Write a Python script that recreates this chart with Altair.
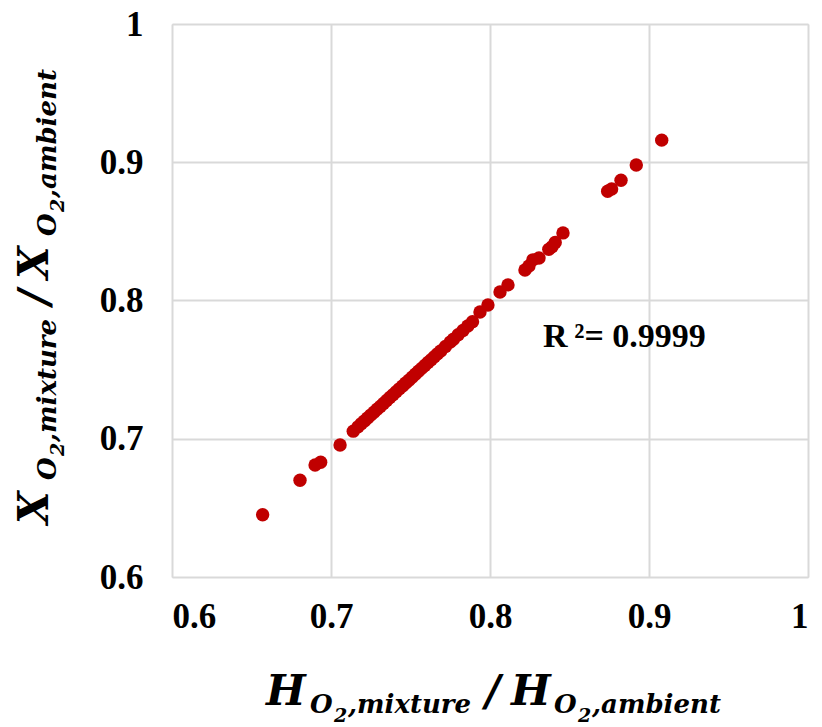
import altair as alt
import pandas as pd

# H_O2 ratio (x) and X_O2 ratio (y)
h_ratio = [0.657, 0.6805, 0.690, 0.6935, 0.7057,
           0.714, 0.717, 0.719, 0.721, 0.723, 0.725, 0.727, 0.729, 0.731, 0.733,
           0.735, 0.737, 0.739, 0.741, 0.743, 0.745, 0.747, 0.749, 0.751, 0.753,
           0.755, 0.757, 0.759, 0.761, 0.763, 0.765, 0.767, 0.769, 0.772, 0.775,
           0.777, 0.780, 0.783, 0.786, 0.789, 0.7937, 0.7987,
           0.8063, 0.8113, 0.822, 0.8245, 0.827, 0.8308, 0.837, 0.839, 0.841, 0.8459,
           0.874, 0.8765, 0.8824, 0.892, 0.908]
x_ratio = [0.645, 0.670, 0.681, 0.683, 0.6955,
           0.7055, 0.7086, 0.7108, 0.7129, 0.7150, 0.7171, 0.7192, 0.7213, 0.7234, 0.7255,
           0.7277, 0.7298, 0.7319, 0.7340, 0.7361, 0.7382, 0.7403, 0.7424, 0.7445, 0.7467,
           0.7488, 0.7509, 0.7530, 0.7551, 0.7572, 0.7593, 0.7614, 0.7635, 0.7667, 0.7699,
           0.7720, 0.7752, 0.7783, 0.7815, 0.7847, 0.7917, 0.7968,
           0.8062, 0.8113, 0.8221, 0.8250, 0.8294, 0.8308, 0.8370, 0.8388, 0.8420, 0.8489,
           0.879, 0.8807, 0.887, 0.898, 0.916]

ticks = [0.6, 0.7, 0.8, 0.9, 1.0]
r2_text = ["R\u2009²= 0.9999"]

df = pd.DataFrame({"h": h_ratio, "x": x_ratio})

W, H = 636, 553
L, T = 172, 24
serif = "Liberation Serif"
mathf = "DejaVu Serif"

xscale = alt.Scale(domain=[0.6, 1.0], nice=False, zero=False)
yscale = alt.Scale(domain=[0.6, 1.0], nice=False, zero=False)

def fmt_expr():
    return "datum.value == 1 ? '1' : format(datum.value, '.1f')"

def axis(pad):
    return alt.Axis(values=ticks, title=None, labelExpr=fmt_expr(),
                    labelFont=serif, labelFontSize=35, labelFontWeight="bold",
                    labelColor="black", labelPadding=pad, tickSize=0, domain=False,
                    grid=True, gridColor="#d9d9d9", gridWidth=2)

points = alt.Chart(df).mark_circle(size=180, color="#C00000", opacity=1).encode(
    x=alt.X("h:Q", scale=xscale, axis=axis(22)),
    y=alt.Y("x:Q", scale=yscale, axis=axis(29)),
)

r2 = alt.Chart(pd.DataFrame({"h": [0.8333], "x": [0.7737], "t": r2_text})).mark_text(
    font=serif, fontSize=34, fontWeight="bold", align="left", baseline="middle", color="black"
).encode(x=alt.X("h:Q", scale=xscale), y=alt.Y("x:Q", scale=yscale), text="t:N")

# axis titles built from pieces (main letter, subscript, sub-subscript)
def piece(text, size, px, py, angle=0):
    kw = dict(font=mathf, fontSize=size, fontWeight="bold", fontStyle="italic",
              align="left", baseline="alphabetic", color="black", text=text)
    if angle:
        kw["angle"] = angle
    return alt.Chart(pd.DataFrame({"a": [0]})).mark_text(**kw).encode(
        x=alt.value(px - L), y=alt.value(py - T))

MAIN, SUB, SUB2 = 42, 26, 19
xt = [
    ("H", MAIN, 266, 705), ("O", SUB, 310, 713), ("2", SUB2, 334, 722), (",mixture", SUB, 348, 713),
    ("/", MAIN, 485, 705), ("H", MAIN, 511, 705), ("O", SUB, 554, 713), ("2", SUB2, 578, 722),
    (",ambient", SUB, 592, 713),
]
yt = [
    ("X", MAIN, 48, 524), ("O", SUB, 56, 480), ("2", SUB2, 64, 456), (",mixture", SUB, 56, 442),
    ("/", MAIN, 48, 305), ("X", MAIN, 48, 279), ("O", SUB, 56, 236), ("2", SUB2, 64, 212),
    (",ambient", SUB, 56, 198),
]

layers = [points, r2]
layers += [piece(t, s, px, py) for t, s, px, py in xt]
layers += [piece(t, s, px, py, 270) for t, s, px, py in yt]

chart = alt.layer(*layers).properties(
    width=W, height=H,
    autosize=alt.AutoSizeParams(type="none"),
    padding={"left": L, "top": T, "right": 822 - L - W, "bottom": 727 - T - H},
).configure_view(stroke="black", strokeWidth=2).configure(background="white")

chart.save("out.html", embed_options={"renderer": "svg", "actions": False})
